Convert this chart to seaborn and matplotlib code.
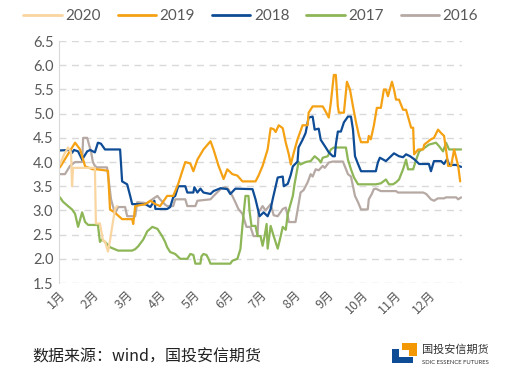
import numpy as np
import pandas as pd
import seaborn as sns
import matplotlib.pyplot as plt
from matplotlib.patches import Rectangle

# x positions are in months from Jan 1 (0 = 1月, 11 = 12月)
x2020 = [0.03, 0.15, 0.27, 0.36, 0.39, 0.42, 1.07, 1.10, 1.22, 1.31, 1.37, 1.46, 1.52, 1.61, 1.67, 1.73]
y2020 = [3.95, 4.15, 4.30, 4.20, 3.50, 3.88, 3.88, 2.73, 2.73, 2.38, 2.36, 2.15, 2.38, 2.78, 3.03, 3.09]

x2019 = [0.03, 0.48, 0.63, 0.78, 1.01, 1.13, 1.46, 1.52, 1.67, 1.88, 2.18, 2.21, 2.27, 2.57, 2.72, 2.87,
         3.01, 3.22, 3.40, 3.55, 3.67, 3.76, 3.91, 4.00, 4.12, 4.30, 4.51, 4.60, 4.75, 4.90, 5.01, 5.16,
         5.31, 5.46, 5.85, 5.94, 6.06, 6.21, 6.30, 6.39, 6.45, 6.54, 6.66, 6.75, 6.84, 6.90, 6.99, 7.10,
         7.25, 7.40, 7.43, 7.55, 7.85, 7.94, 8.03, 8.09, 8.18, 8.24, 8.30, 8.33, 8.48, 8.57, 8.66, 8.75,
         8.84, 8.93, 8.99, 9.19, 9.22, 9.28, 9.37, 9.46, 9.58, 9.67, 9.73, 9.79, 9.91, 9.97, 10.03, 10.12,
         10.24, 10.33, 10.48, 10.54, 10.57, 10.69, 10.84, 10.87, 11.07, 11.16, 11.28, 11.37, 11.46, 11.55,
         11.58, 11.67, 11.76, 11.88, 11.94]
y2019 = [3.89, 4.40, 4.26, 3.91, 3.85, 3.85, 3.82, 3.02, 2.95, 2.82, 2.82, 2.72, 3.09, 3.13, 3.20, 3.13,
         3.09, 3.30, 3.30, 3.55, 3.81, 4.00, 3.97, 3.81, 4.05, 4.26, 4.43, 4.26, 3.92, 3.65, 3.85, 3.75,
         3.72, 3.60, 3.60, 3.72, 3.92, 4.26, 4.70, 4.68, 4.62, 4.76, 4.70, 4.40, 4.16, 3.95, 4.20, 4.47,
         4.76, 4.76, 5.02, 5.15, 5.15, 5.04, 4.92, 5.22, 5.80, 5.80, 5.15, 5.02, 5.02, 5.66, 5.50, 5.15,
         4.82, 4.54, 4.41, 4.41, 4.54, 4.47, 4.75, 5.12, 5.12, 5.50, 5.50, 5.36, 5.66, 5.50, 5.29, 5.29,
         5.08, 5.08, 4.71, 4.71, 4.16, 4.26, 4.26, 4.36, 4.47, 4.50, 4.67, 4.60, 4.54, 4.10,
         3.92, 3.92, 4.26, 3.92, 3.60]

x2018 = [0.03, 0.33, 0.39, 0.45, 0.57, 0.69, 0.84, 0.93, 1.07, 1.16, 1.25, 1.37, 1.82, 1.88, 2.03, 2.12,
         2.18, 2.57, 2.72, 2.84, 2.87, 3.22, 3.31, 3.40, 3.46, 3.55, 3.76, 3.82, 4.00, 4.03, 4.12, 4.21,
         4.30, 4.51, 4.60, 4.81, 5.01, 5.10, 5.25, 5.76, 5.85, 5.97, 6.09, 6.21, 6.30, 6.36, 6.51, 6.66,
         6.69, 6.81, 6.90, 6.96, 7.10, 7.13, 7.25, 7.34, 7.43, 7.55, 7.61, 7.73, 7.79, 7.94, 8.03, 8.15,
         8.21, 8.24, 8.30, 8.39, 8.48, 8.60, 8.69, 8.75, 8.81, 8.90, 8.99, 9.43, 9.49, 9.55, 9.73, 9.88,
         9.97, 10.12, 10.24, 10.33, 10.45, 10.57, 10.72, 11.01, 11.07, 11.16, 11.37, 11.46, 11.55, 11.61,
         11.82, 11.97]
y2018 = [4.24, 4.25, 4.19, 4.25, 4.22, 4.05, 4.22, 4.25, 4.20, 4.40, 4.38, 4.26, 4.26, 3.60, 3.54, 3.30,
         3.13, 3.13, 3.07, 3.20, 3.03, 3.03, 3.07, 3.27, 3.30, 3.50, 3.50, 3.37, 3.37, 3.48, 3.37, 3.45,
         3.37, 3.34, 3.40, 3.46, 3.44, 3.34, 3.45, 3.44, 3.23, 2.88, 2.96, 2.88, 3.03, 3.23, 3.68, 3.70,
         3.50, 3.55, 3.74, 3.91, 4.01, 4.30, 4.46, 4.60, 4.92, 4.94, 4.67, 4.69, 4.46, 4.30, 4.20, 4.12,
         4.12, 4.36, 4.63, 4.63, 4.82, 4.94, 4.94, 4.67, 4.12, 3.96, 3.81, 3.81, 3.99, 4.09, 4.02, 4.12,
         4.18, 4.12, 4.10, 4.16, 4.12, 4.06, 3.96, 3.96, 3.81, 4.02, 4.02, 3.96, 4.06, 3.94,
         3.94, 3.90]

x2017 = [0.03, 0.12, 0.27, 0.39, 0.48, 0.57, 0.69, 0.78, 0.87, 1.16, 1.22, 1.28, 1.37, 1.52, 1.76, 2.18,
         2.27, 2.36, 2.51, 2.63, 2.78, 2.93, 3.07, 3.16, 3.22, 3.31, 3.46, 3.61, 3.82, 3.91, 4.00, 4.06,
         4.21, 4.24, 4.30, 4.39, 4.45, 4.51, 5.10, 5.16, 5.31, 5.40, 5.46, 5.55, 5.64, 5.67, 5.73, 5.85,
         5.91, 6.00, 6.06, 6.12, 6.18, 6.21, 6.30, 6.39, 6.51, 6.60, 6.66, 6.75, 6.81, 6.96, 7.01, 7.13,
         7.19, 7.34, 7.49, 7.61, 7.73, 7.79, 7.85, 8.00, 8.09, 8.18, 8.54, 8.60, 8.69, 8.78, 8.90, 9.43,
         9.58, 9.73, 9.82, 9.94, 10.03, 10.12, 10.24, 10.33, 10.39, 10.54, 10.63, 10.72, 10.87, 11.01,
         11.22, 11.31, 11.43, 11.52, 11.61, 11.97]
y2017 = [3.27, 3.18, 3.09, 3.02, 2.93, 2.66, 2.96, 2.76, 2.70, 2.70, 2.35, 2.40, 2.35, 2.24, 2.17, 2.17,
         2.20, 2.26, 2.40, 2.57, 2.66, 2.62, 2.47, 2.35, 2.24, 2.14, 2.10, 2.00, 2.00, 2.10, 2.08, 1.90,
         1.90, 2.05, 2.10, 2.08, 2.00, 1.90, 1.90, 1.96, 2.00, 2.20, 2.68, 3.30, 3.30, 3.00, 2.68, 2.68,
         2.47, 2.47, 2.27, 2.47, 2.72, 2.21, 2.68, 2.47, 2.21, 2.47, 2.66, 2.60, 2.93, 3.30, 3.54, 4.00,
         3.95, 4.00, 4.02, 4.12, 4.05, 3.99, 4.09, 4.12, 4.26, 4.30, 4.30, 4.05, 3.85, 3.68, 3.54, 3.54,
         3.56, 3.64, 3.54, 3.54, 3.58, 3.64, 3.85, 4.05, 3.85, 3.85, 4.05, 4.22, 4.29, 4.36,
         4.40, 4.33, 4.22, 4.40, 4.26, 4.26]

x2016 = [0.03, 0.18, 0.33, 0.48, 0.69, 0.72, 0.84, 0.96, 1.01, 1.07, 1.13, 1.43, 1.49, 1.55, 1.67, 1.76,
         1.97, 2.03, 2.27, 2.33, 2.63, 2.78, 2.93, 3.01, 3.16, 3.22, 3.40, 3.46, 3.76, 3.82, 4.06, 4.12,
         4.51, 4.66, 4.81, 4.96, 5.04, 5.16, 5.25, 5.34, 5.46, 5.58, 5.70, 5.79, 5.91, 5.94, 6.06, 6.15,
         6.30, 6.39, 6.51, 6.66, 6.75, 6.81, 6.84, 7.04, 7.10, 7.19, 7.28, 7.40, 7.49, 7.55, 7.64, 7.73,
         7.85, 7.91, 8.03, 8.15, 8.45, 8.48, 8.60, 8.69, 8.75, 8.81, 8.90, 8.99, 9.19, 9.22, 9.31, 9.37,
         9.43, 9.58, 10.03, 10.09, 10.84, 10.93, 11.07, 11.16, 11.28, 11.46, 11.52, 11.82, 11.88, 11.97]
y2016 = [3.75, 3.75, 3.92, 4.00, 4.00, 4.50, 4.50, 4.20, 4.00, 3.92, 3.89, 3.89, 3.57, 3.23, 2.93, 3.07,
         3.07, 2.88, 2.88, 3.17, 3.15, 3.23, 3.30, 3.23, 3.12, 3.09, 3.09, 3.23, 3.23, 3.09, 3.09, 3.20,
         3.23, 3.34, 3.44, 3.48, 3.44, 3.30, 3.17, 3.03, 2.93, 2.66, 2.66, 2.47, 2.47, 2.96, 3.09, 3.00,
         3.13, 2.90, 2.88, 3.03, 3.06, 2.88, 2.76, 2.76, 3.00, 3.37, 3.42, 3.58, 3.75, 3.70, 3.85, 3.83,
         3.92, 3.88, 3.99, 4.01, 4.01, 3.96, 3.75, 3.70, 3.50, 3.30, 3.17, 3.02, 3.02, 3.23, 3.34, 3.44,
         3.45, 3.40, 3.40, 3.37, 3.37, 3.34, 3.23, 3.20, 3.25, 3.25, 3.27, 3.27, 3.23, 3.27]

years = ['2020', '2019', '2018', '2017', '2016']
colors = {'2020': '#F9D5A0', '2019': '#F5A114', '2018': '#0E4C96',
          '2017': '#8DB656', '2016': '#B6A9A4'}
month_labels = [f'{i}月' for i in range(1, 13)]

series = {'2020': (x2020, y2020), '2019': (x2019, y2019), '2018': (x2018, y2018),
          '2017': (x2017, y2017), '2016': (x2016, y2016)}
df = pd.concat([pd.DataFrame({'month': xs, 'price': ys, 'year': yr})
                for yr, (xs, ys) in series.items()], ignore_index=True)

sns.set_style('white')
plt.rcParams['font.family'] = ['Lato', 'Noto Sans CJK SC', 'DejaVu Sans']
grey = '#595959'

fig = plt.figure(figsize=(5.17, 3.84), dpi=100)
ax = fig.add_axes([0.114, 0.263, 0.780, 0.630])

sns.lineplot(data=df, x='month', y='price', hue='year', hue_order=years[::-1],
             palette=colors, estimator=None, sort=False, linewidth=1.6, ax=ax)

ax.set_xlim(0, 12)
ax.set_ylim(1.5, 6.5)
ax.set_yticks(np.arange(1.5, 6.51, 0.5))
ax.set_yticklabels([f'{v:.1f}' for v in np.arange(1.5, 6.51, 0.5)], fontsize=10.5, color=grey)
ax.set_xticks(range(12))
ax.set_xticklabels(month_labels, rotation=45, ha='right', rotation_mode='anchor',
                   fontsize=9, color=grey, family=['Noto Sans CJK SC', 'DejaVu Sans'])
ax.tick_params(length=0, pad=4)
ax.set_xlabel('')
ax.set_ylabel('')
ax.yaxis.grid(True, linestyle=(0, (5, 4)), color='#D9D9D9', linewidth=1)
for s in ['top', 'right', 'bottom']:
    ax.spines[s].set_visible(False)
ax.spines['left'].set_color('#D9D9D9')

handles, labels = ax.get_legend_handles_labels()
order = [labels.index(y) for y in years]
ax.legend([handles[i] for i in order], years, ncol=5, frameon=False,
          loc='center', bbox_to_anchor=(0.485, 0.958), bbox_transform=fig.transFigure,
          fontsize=11, labelcolor=grey, handlelength=2.5, columnspacing=1.1, handletextpad=0.25)
for h in ax.get_legend().get_lines():
    h.set_linewidth(2)

fig.text(0.062, 0.07, '数据来源：wind，国投安信期货', fontsize=11.5, color='#222222',
         family=['Noto Sans CJK SC', 'DejaVu Sans'], va='center')

# logo
W, H = 517, 384
def px_rect(x, y, w, h, c):
    fig.add_artist(Rectangle((x / W, 1 - (y + h) / H), w / W, h / H,
                             transform=fig.transFigure, color=c, lw=0))
px_rect(402, 343, 15, 13, '#F39800')
px_rect(402, 350, 7, 6, 'white')
px_rect(392, 349, 7, 14, '#0E4C96')
px_rect(392, 357, 21, 6, '#0E4C96')
fig.text(422 / W, 1 - 350 / H, '国投安信期货', fontsize=8, color='#333333',
         family=['Noto Sans CJK SC', 'DejaVu Sans'], va='center')
fig.text(422 / W, 1 - 362 / H, 'SDIC ESSENCE FUTURES', fontsize=4.2, color='#333333', va='center')

fig.savefig('out.png', dpi=100)
